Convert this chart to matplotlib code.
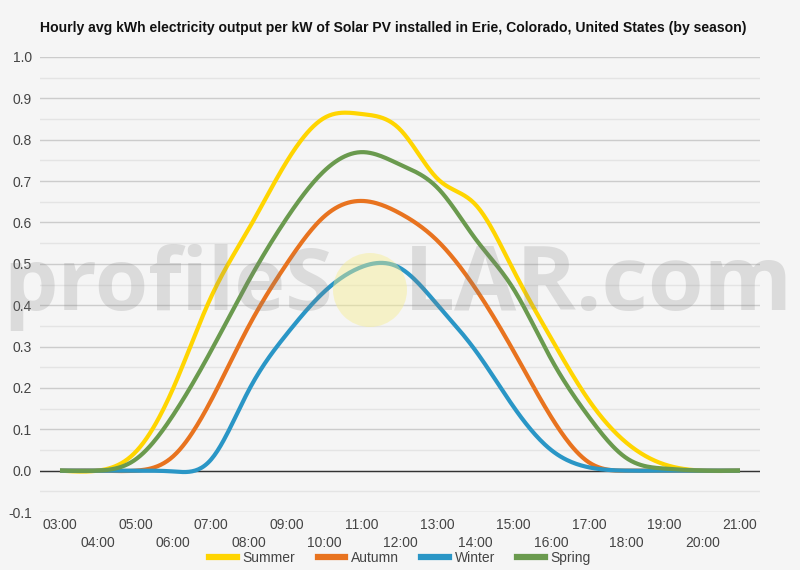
import numpy as np
import matplotlib
matplotlib.use("Agg")
import matplotlib.pyplot as plt
from matplotlib.lines import Line2D
from matplotlib.patches import Circle
from matplotlib.transforms import IdentityTransform

# ---- data ----
hours = list(range(3, 22))
hour_labels = [f"{h:02d}:00" for h in hours]
summer = [0.0, 0.0, 0.045, 0.20, 0.42, 0.585, 0.747, 0.853, 0.862, 0.825, 0.705, 0.643,
          0.485, 0.32, 0.17, 0.067, 0.015, 0.0, 0.0]
autumn = [0.0, 0.0, 0.0, 0.035, 0.17, 0.35, 0.50, 0.615, 0.652, 0.622, 0.555, 0.44,
          0.29, 0.13, 0.02, 0.0, 0.0, 0.0, 0.0]
winter = [0.0, 0.0, 0.0, -0.002, 0.027, 0.195, 0.33, 0.433, 0.493, 0.49, 0.40, 0.29,
          0.155, 0.05, 0.008, 0.0, 0.0, 0.0, 0.0]
spring = [0.0, 0.0, 0.027, 0.135, 0.29, 0.46, 0.61, 0.725, 0.77, 0.74, 0.683, 0.56,
          0.44, 0.27, 0.13, 0.03, 0.005, 0.0, 0.0]
series_names = ["Summer", "Autumn", "Winter", "Spring"]
series_values = [summer, autumn, winter, spring]
colors = ["#FFD500", "#E8731F", "#2A96C6", "#6A9A4E"]
title = "Hourly avg kWh electricity output per kW of Solar PV installed in Erie, Colorado, United States (by season)"


def smooth(x, y, n=24):
    """Natural cubic spline through the points (smooth 'function' curve)."""
    x = np.asarray(x, float)
    y = np.asarray(y, float)
    N = len(x)
    h = np.diff(x)
    A = np.zeros((N, N))
    b = np.zeros(N)
    A[0, 0] = 1
    A[-1, -1] = 1
    for i in range(1, N - 1):
        A[i, i - 1] = h[i - 1]
        A[i, i] = 2 * (h[i - 1] + h[i])
        A[i, i + 1] = h[i]
        b[i] = 6 * ((y[i + 1] - y[i]) / h[i] - (y[i] - y[i - 1]) / h[i - 1])
    M = np.linalg.solve(A, b)
    xs, ys = [], []
    for i in range(N - 1):
        t = np.linspace(0, 1, n, endpoint=False)
        hi = h[i]
        s = ((1 - t) * y[i] + t * y[i + 1]
             + hi**2 / 6 * (((1 - t)**3 - (1 - t)) * M[i] + (t**3 - t) * M[i + 1]))
        xs.append(x[i] + t * hi)
        ys.append(s)
    xs.append([x[-1]])
    ys.append([y[-1]])
    return np.concatenate(xs), np.concatenate(ys)


plt.rcParams['font.family'] = ['Liberation Sans', 'DejaVu Sans']
BG = "#f5f5f5"
fig = plt.figure(figsize=(8, 5.7), dpi=100, facecolor=BG)
ax = fig.add_axes([0.05, 1 - 512 / 570, 0.90, (512 - 57) / 570])
ax.set_facecolor(BG)

for name, vals, c in zip(series_names, series_values, colors):
    xs, ys = smooth(hours, vals)
    ax.plot(xs, ys, color=c, lw=3.0, solid_capstyle='butt', zorder=3)

pad_h = 20 / ((740 - 60) / 18)
ax.set_xlim(hours[0] - pad_h, hours[-1] + pad_h)
ax.set_ylim(-0.1, 1.0)

yt = np.round(np.arange(-0.1, 1.01, 0.1), 1)
ax.set_yticks(yt)
ax.set_yticklabels([f"{v:.1f}" for v in yt])
ax.set_yticks(np.round(np.arange(-0.05, 1.0, 0.1), 2), minor=True)
ax.grid(axis='y', which='major', color='#cccccc', lw=1.0, zorder=0)
ax.grid(axis='y', which='minor', color='#e4e4e4', lw=1.0, zorder=0)
ax.axhline(0, color='#333333', lw=1.0, zorder=2)

ax.set_xticks(hours[::2])
ax.set_xticklabels(hour_labels[::2])
ax.set_xticks(hours[1::2], minor=True)
ax.set_xticklabels(hour_labels[1::2], minor=True)
ax.tick_params(axis='x', which='major', length=0, pad=4, labelsize=10, labelcolor='#444444')
ax.tick_params(axis='x', which='minor', length=0, pad=17.5, labelsize=10, labelcolor='#444444')
ax.tick_params(axis='y', which='both', length=0, pad=6, labelsize=10, labelcolor='#444444')
for s in ax.spines.values():
    s.set_visible(False)

fig.text(40 / 800, 1 - 28 / 570, title, fontsize=10.1, fontweight='bold',
         color='#111111', ha='left', va='center')

handles = [Line2D([0], [0], color=c, lw=4.5) for c in colors]
fig.legend(handles, series_names, loc='center', bbox_to_anchor=(0.5, 1 - 558 / 570),
           ncol=4, frameon=False, fontsize=10, handlelength=2.0, handletextpad=0.4,
           columnspacing=1.6, labelcolor='#444444')

# watermark
tr = IdentityTransform()
fig.text(333, 570 - 310, "profileS", transform=tr, fontsize=62, fontweight='bold',
         family='Open Sans', color='#808080', alpha=0.22, ha='right', va='baseline', zorder=10)
fig.text(404, 570 - 310, "LAR.com", transform=tr, fontsize=65, fontweight='bold',
         family='Open Sans', color='#808080', alpha=0.22, ha='left', va='baseline', zorder=10)
sun = Circle((370, 570 - 290), 37, transform=tr, facecolor='#f6ee90', edgecolor='none',
             alpha=0.45, zorder=10)
fig.patches.append(sun)

fig.savefig("out.png", dpi=100, facecolor=BG)
